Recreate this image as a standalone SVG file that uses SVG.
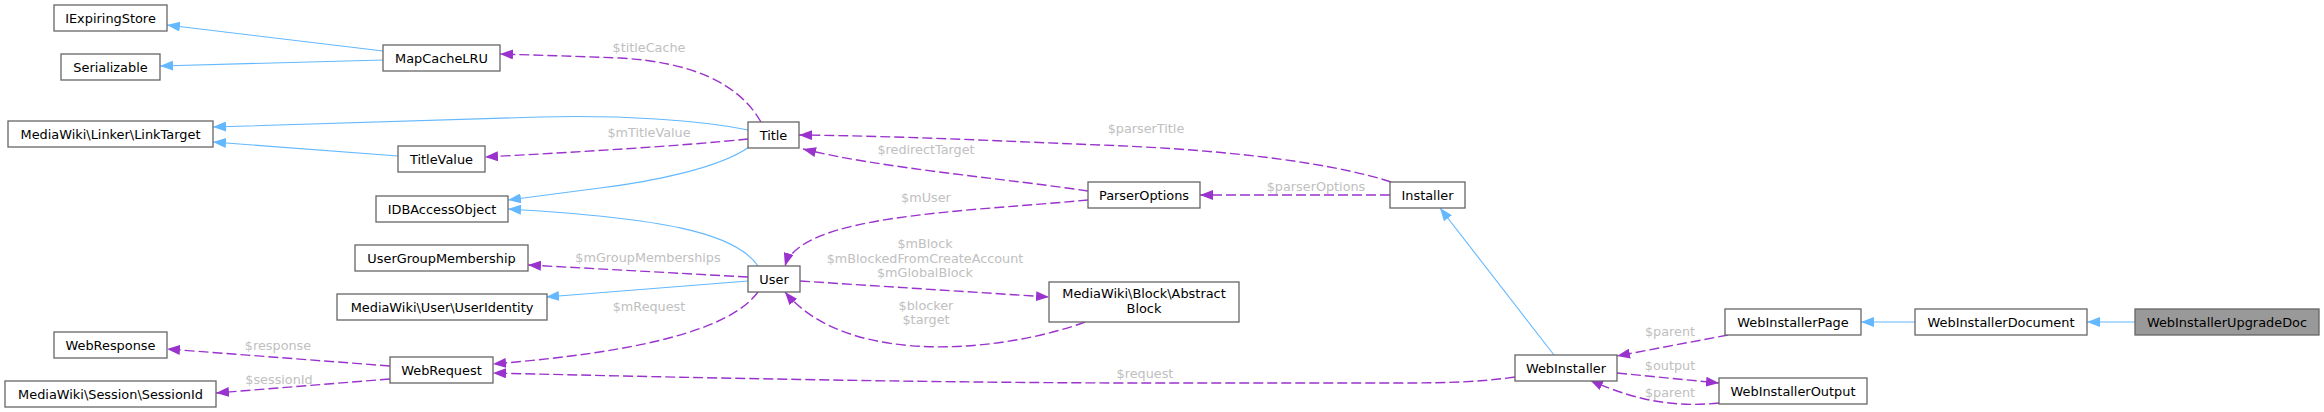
<svg xmlns="http://www.w3.org/2000/svg" width="2324" height="412" viewBox="0 0 2324 412">
<style>
.n rect{fill:#ffffff;stroke:#666666;stroke-width:1.3}
.n.sel rect{fill:#999999}
.n text{font-family:"DejaVu Sans",sans-serif;font-size:12.9px;fill:#000000;text-anchor:middle}
.e path{fill:none}
.inh{stroke:#63b8ff;stroke-width:1.1;marker-end:url(#ab)}
.use{stroke:#9a32cd;stroke-width:1.4;stroke-dasharray:10,4;marker-end:url(#ap)}
.lbl{font-family:"DejaVu Sans",sans-serif;font-size:12.8px;fill:#c0c0c0;text-anchor:middle}
</style>
<defs>
<marker id="ab" viewBox="0 0 13 10" refX="13" refY="5" markerWidth="13" markerHeight="10" markerUnits="userSpaceOnUse" orient="auto"><path d="M0,0 L13,5 L0,10 z" fill="#63b8ff"/></marker>
<marker id="ap" viewBox="0 0 13 10" refX="13" refY="5" markerWidth="13" markerHeight="10" markerUnits="userSpaceOnUse" orient="auto"><path d="M0,0 L13,5 L0,10 z" fill="#9a32cd"/></marker>
</defs>
<rect width="2324" height="412" fill="#ffffff"/>
<g id="connectors" class="e">
<path class="inh" d="M383,51 L167,25"/>
<path class="inh" d="M383,60 L160,66"/>
<path class="use" d="M761,122 C738,82 690,62 620,58 C570,56 530,55 500,54"/>
<path class="inh" d="M748,130 C700,120 620,115 540,117 C420,120 300,124 213,127"/>
<path class="inh" d="M398,156 L213,142"/>
<path class="use" d="M748,139 C680,146 580,152 485,157"/>
<path class="inh" d="M749,147 C720,168 650,182 600,188 C570,192 540,196 508,200"/>
<path class="inh" d="M758,266 C735,232 660,218 508,209"/>
<path class="use" d="M748,277 L528,265"/>
<path class="inh" d="M748,281 L546,297"/>
<path class="use" d="M758,292 C730,330 640,352 493,364"/>
<path class="use" d="M390,366 L167,349"/>
<path class="use" d="M390,379 L216,393"/>
<path class="use" d="M1515,377 C1480,382 1450,383 1400,383 L1150,383 C950,383 700,378 493,373"/>
<path class="use" d="M1391,182 C1340,165 1240,150 1100,145 C1000,141 900,136 799,135"/>
<path class="use" d="M1390,195 L1200,195"/>
<path class="use" d="M1088,191 C1000,178 880,168 803,149"/>
<path class="use" d="M1088,200 C960,212 800,215 785,266"/>
<path class="use" d="M800,281 L1049,297"/>
<path class="use" d="M1085,322 C1010,350 850,370 785,292"/>
<path class="inh" d="M1554,355 L1440,208"/>
<path class="use" d="M1728,335 L1617,356"/>
<path class="use" d="M1617,373 L1719,383"/>
<path class="use" d="M1719,403 C1680,407 1640,403 1590,380"/>
<path class="inh" d="M1915,322 L1861,322"/>
<path class="inh" d="M2135,322 L2087,322"/>
<text class="lbl" x="649" y="52">$titleCache</text>
<text class="lbl" x="649" y="137">$mTitleValue</text>
<text class="lbl" x="648" y="262">$mGroupMemberships</text>
<text class="lbl" x="649" y="311">$mRequest</text>
<text class="lbl" x="278" y="350">$response</text>
<text class="lbl" x="279" y="384">$sessionId</text>
<text class="lbl" x="1145" y="378">$request</text>
<text class="lbl" x="1146" y="133">$parserTitle</text>
<text class="lbl" x="1316" y="191">$parserOptions</text>
<text class="lbl" x="926" y="154">$redirectTarget</text>
<text class="lbl" x="926" y="202">$mUser</text>
<text class="lbl" x="925" y="248">$mBlock</text>
<text class="lbl" x="925" y="263">$mBlockedFromCreateAccount</text>
<text class="lbl" x="925" y="277">$mGlobalBlock</text>
<text class="lbl" x="926" y="310">$blocker</text>
<text class="lbl" x="926" y="324">$target</text>
<text class="lbl" x="1670" y="336">$parent</text>
<text class="lbl" x="1670" y="370">$output</text>
<text class="lbl" x="1670" y="397">$parent</text>
</g>
<g id="IExpiringStore" class="n"><rect x="54" y="5" width="113" height="26"/><text x="110.5" y="22.5">IExpiringStore</text></g>
<g id="Serializable" class="n"><rect x="61" y="54" width="99" height="26"/><text x="110.5" y="71.5">Serializable</text></g>
<g id="MapCacheLRU" class="n"><rect x="383" y="45" width="117" height="26"/><text x="441.5" y="62.5">MapCacheLRU</text></g>
<g id="LinkTarget" class="n"><rect x="8" y="121" width="205" height="26"/><text x="110.5" y="138.5">MediaWiki\Linker\LinkTarget</text></g>
<g id="TitleValue" class="n"><rect x="398" y="146" width="87" height="26"/><text x="441.5" y="163.5">TitleValue</text></g>
<g id="Title" class="n"><rect x="748" y="122" width="51" height="26"/><text x="773.5" y="139.5">Title</text></g>
<g id="IDBAccessObject" class="n"><rect x="376" y="196" width="132" height="26"/><text x="442" y="213.5">IDBAccessObject</text></g>
<g id="ParserOptions" class="n"><rect x="1088" y="182" width="112" height="26"/><text x="1144" y="199.5">ParserOptions</text></g>
<g id="Installer" class="n"><rect x="1390" y="182" width="75" height="26"/><text x="1427.5" y="199.5">Installer</text></g>
<g id="UserGroupMembership" class="n"><rect x="355" y="245" width="173" height="26"/><text x="441.5" y="262.5">UserGroupMembership</text></g>
<g id="User" class="n"><rect x="748" y="266" width="52" height="26"/><text x="774" y="283.5">User</text></g>
<g id="UserIdentity" class="n"><rect x="337" y="294" width="210" height="26"/><text x="442" y="311.5">MediaWiki\User\UserIdentity</text></g>
<g id="AbstractBlock" class="n"><rect x="1049" y="282" width="190" height="40"/><text x="1144" y="298">MediaWiki\Block\Abstract</text><text x="1144" y="313">Block</text></g>
<g id="WebResponse" class="n"><rect x="54" y="332" width="113" height="26"/><text x="110.5" y="349.5">WebResponse</text></g>
<g id="WebRequest" class="n"><rect x="390" y="357" width="103" height="26"/><text x="441.5" y="374.5">WebRequest</text></g>
<g id="SessionId" class="n"><rect x="5" y="381" width="211" height="26"/><text x="110.5" y="398.5">MediaWiki\Session\SessionId</text></g>
<g id="WebInstaller" class="n"><rect x="1515" y="355" width="102" height="26"/><text x="1566" y="372.5">WebInstaller</text></g>
<g id="WebInstallerPage" class="n"><rect x="1725" y="309" width="136" height="26"/><text x="1793" y="326.5">WebInstallerPage</text></g>
<g id="WebInstallerOutput" class="n"><rect x="1719" y="378" width="148" height="26"/><text x="1793" y="395.5">WebInstallerOutput</text></g>
<g id="WebInstallerDocument" class="n"><rect x="1915" y="309" width="172" height="26"/><text x="2001" y="326.5">WebInstallerDocument</text></g>
<g id="WebInstallerUpgradeDoc" class="n sel"><rect x="2135" y="309" width="184" height="26"/><text x="2227" y="326.5">WebInstallerUpgradeDoc</text></g>
</svg>
